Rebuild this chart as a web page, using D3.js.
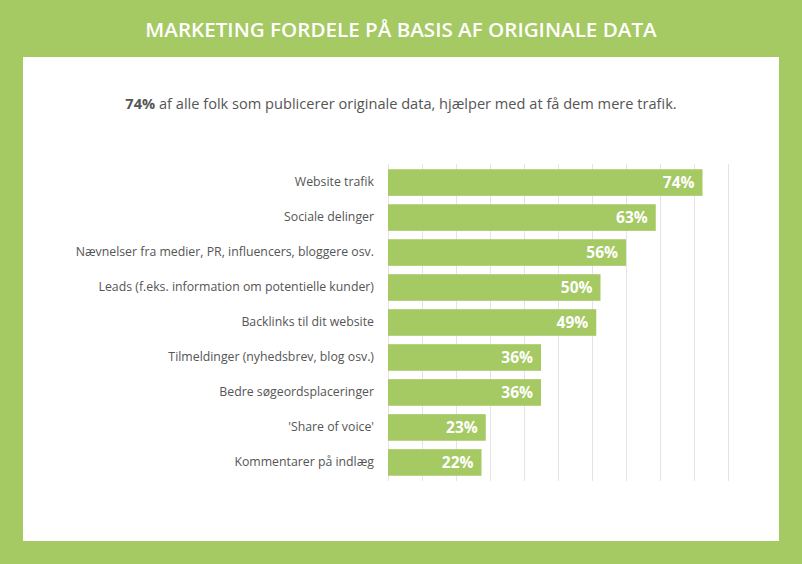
<!DOCTYPE html>
<html>
<head>
<meta charset="utf-8">
<script src="https://cdn.jsdelivr.net/npm/d3@7"></script>
<style>
  html, body { margin: 0; padding: 0; background: #a5c963; }
  svg { display: block; }
  text { font-family: "Open Sans", sans-serif; }
</style>
</head>
<body>
<svg id="chart" width="802" height="564"></svg>
<script>
const categories = [
  "Website trafik",
  "Sociale delinger",
  "Nævnelser fra medier, PR, influencers, bloggere osv.",
  "Leads (f.eks. information om potentielle kunder)",
  "Backlinks til dit website",
  "Tilmeldinger (nyhedsbrev, blog osv.)",
  "Bedre søgeordsplaceringer",
  "'Share of voice'",
  "Kommentarer på indlæg"
];
const values = [74, 63, 56, 50, 49, 36, 36, 23, 22];
const gridTicks = [0, 8, 16, 24, 32, 40, 48, 56, 64, 72, 80];
const titleText = "MARKETING FORDELE PÅ BASIS AF ORIGINALE DATA";
const subtitleBold = "74%";
const subtitleRest = " af alle folk som publicerer originale data, hjælper med at få dem mere trafik.";

const green = "#a5c963";
const svg = d3.select("#chart");

svg.append("rect").attr("x", 0).attr("y", 0).attr("width", 802).attr("height", 564).attr("fill", green);
svg.append("rect").attr("x", 23).attr("y", 57).attr("width", 756).attr("height", 484).attr("fill", "#ffffff");

svg.append("text")
  .attr("x", 401).attr("y", 36.5)
  .attr("text-anchor", "middle")
  .attr("fill", "#ffffff")
  .attr("font-size", 20.6)
  .attr("font-weight", 600)
  .text(titleText);

const sub = svg.append("text")
  .attr("x", 401).attr("y", 108.5)
  .attr("text-anchor", "middle")
  .attr("fill", "#555555")
  .attr("font-size", 14.6);
sub.append("tspan").attr("font-weight", 700).text(subtitleBold);
sub.append("tspan").text(subtitleRest);

const x = d3.scaleLinear().domain([0, 80]).range([388, 728]);
const y = d3.scaleBand().domain(categories).range([164, 481]).paddingInner(0.24).paddingOuter(0.15);

// gridlines
svg.append("g")
  .selectAll("line")
  .data(gridTicks)
  .join("line")
  .attr("x1", d => x(d) + 0.5).attr("x2", d => x(d) + 0.5)
  .attr("y1", 164).attr("y2", 481)
  .attr("stroke", "#e4e4e4")
  .attr("stroke-width", 1);

// bars
svg.append("g")
  .selectAll("rect")
  .data(values)
  .join("rect")
  .attr("x", x(0))
  .attr("y", (d, i) => y(categories[i]))
  .attr("width", d => x(d) - x(0))
  .attr("height", y.bandwidth())
  .attr("fill", green);

// value labels
svg.append("g")
  .selectAll("text")
  .data(values)
  .join("text")
  .attr("x", d => x(d) - 8)
  .attr("y", (d, i) => y(categories[i]) + y.bandwidth() / 2)
  .attr("dy", "0.36em")
  .attr("text-anchor", "end")
  .attr("fill", "#ffffff")
  .attr("font-size", 15.5)
  .attr("font-weight", 700)
  .text(d => d + "%");

// category labels
const yAxis = d3.axisLeft(y).tickSize(0).tickPadding(14);
const ag = svg.append("g").attr("transform", `translate(${x(0)},0)`).call(yAxis);
ag.select(".domain").remove();
ag.selectAll("text")
  .attr("fill", "#555555")
  .attr("font-size", 12.3)
  .attr("dy", "0.3em")
  .attr("font-family", "'Open Sans', sans-serif");
</script>
</body>
</html>
